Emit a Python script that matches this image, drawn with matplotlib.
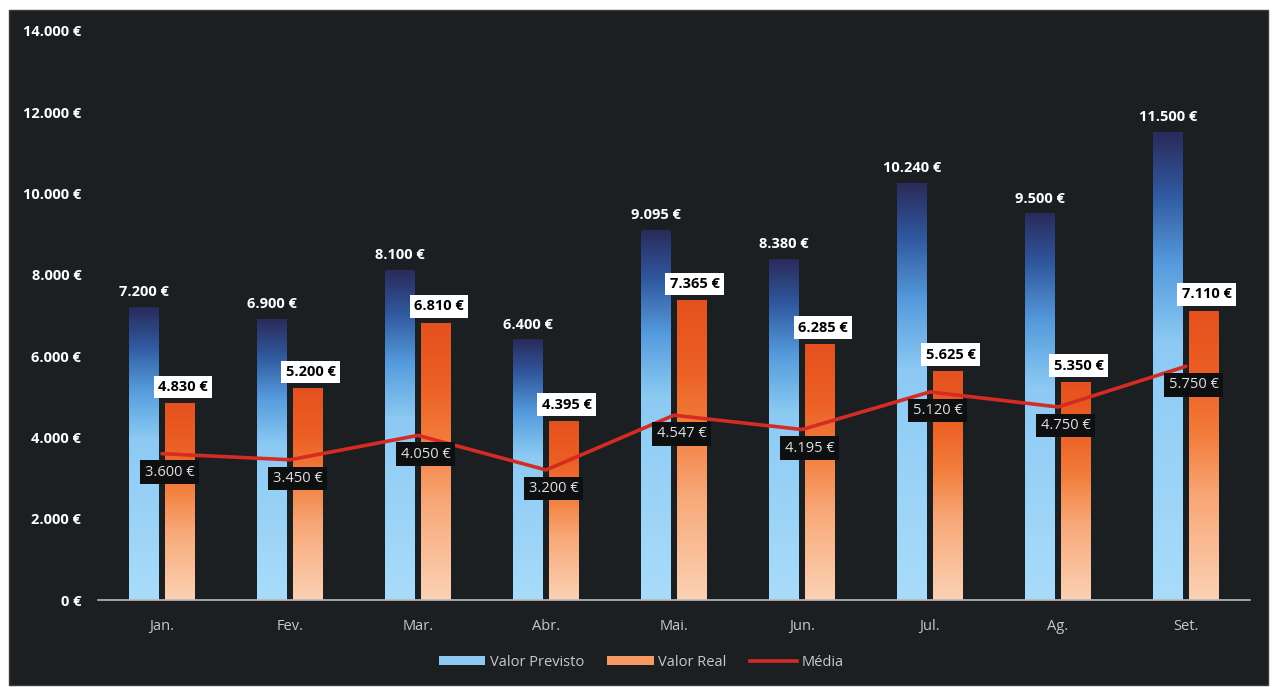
import matplotlib
matplotlib.use("Agg")
import matplotlib.pyplot as plt
import numpy as np
from matplotlib.colors import LinearSegmentedColormap
from matplotlib.patches import Rectangle, Patch
from matplotlib.lines import Line2D

# ---- data ----
months = ["Jan.", "Fev.", "Mar.", "Abr.", "Mai.", "Jun.", "Jul.", "Ag.", "Set."]
valor_previsto = [7200, 6900, 8100, 6400, 9095, 8380, 10240, 9500, 11500]
valor_real = [4830, 5200, 6810, 4395, 7365, 6285, 5625, 5350, 7110]
media = [3600, 3450, 4050, 3200, 4547, 4195, 5120, 4750, 5750]
y_ticks = [0, 2000, 4000, 6000, 8000, 10000, 12000, 14000]
series_names = ["Valor Previsto", "Valor Real", "Média"]

def eur(v):
    return f"{v:,.0f}".replace(",", ".") + " €"

plt.rcParams['font.family'] = ['Open Sans', 'DejaVu Sans']

FS = 10.5
BG = "#1c1f22"
fig = plt.figure(figsize=(12.75, 6.87), dpi=100)
fig.patch.set_facecolor("white")
fig.patches.append(Rectangle((9/1275, 2/687), 1259/1275, 675/687,
                             transform=fig.transFigure, facecolor=BG,
                             edgecolor="#3a3a3a", lw=1, zorder=-5))

ax = fig.add_axes([98/1275, 87/687, (1250-98)/1275, (656-87)/687])
ax.set_zorder(2)
ax.set_facecolor("none")

blue_cmap = LinearSegmentedColormap.from_list("b", [
    (0.0, "#a9dcfa"), (0.55, "#8ccaf4"), (0.72, "#559bdc"),
    (0.87, "#30589e"), (1.0, "#2a2b5c")])
orange_cmap = LinearSegmentedColormap.from_list("o", [
    (0.0, "#fbd2b4"), (0.35, "#f8a878"), (0.58, "#f27c3a"),
    (0.78, "#ec5f24"), (1.0, "#e5511e")])

x = np.arange(len(months))
w = 0.227
off = 0.1406
grad = np.linspace(0, 1, 256).reshape(-1, 1)

for i in range(len(months)):
    xb = x[i] - off
    ax.imshow(grad, extent=[xb - w/2, xb + w/2, 0, valor_previsto[i]],
              origin="lower", cmap=blue_cmap, aspect="auto", zorder=2)
    xo = x[i] + off
    ax.imshow(grad, extent=[xo - w/2, xo + w/2, 0, valor_real[i]],
              origin="lower", cmap=orange_cmap, aspect="auto", zorder=2)

ax.plot(x, media, color="#d52b25", lw=2.6, zorder=4, solid_capstyle="round")

for i in range(len(months)):
    ax.annotate(eur(valor_previsto[i]), (x[i] - off, valor_previsto[i]),
                xytext=(0, 6), textcoords="offset points", ha="center", va="bottom",
                color="white", fontsize=FS, fontweight="bold", zorder=6)
    ax.annotate(eur(valor_real[i]), (x[i] + off, valor_real[i]),
                xytext=(2, 7), textcoords="offset points", ha="center", va="bottom",
                color="black", fontsize=FS, fontweight="bold", zorder=6,
                bbox=dict(boxstyle="square,pad=0.3", fc="white", ec="none"))
    ax.annotate(eur(media[i]), (x[i] + 0.06, media[i]),
                xytext=(0, -8), textcoords="offset points", ha="center", va="top",
                color="#e0e0e0", fontsize=FS, zorder=5,
                bbox=dict(boxstyle="square,pad=0.3", fc="#0e0f11", ec="none"))

ax.set_xlim(-0.5, len(months) - 0.5)
ax.set_ylim(0, 14000)
ax.set_yticks(y_ticks)
ax.set_yticklabels([eur(v) for v in y_ticks], color="white", fontsize=FS, fontweight="bold")
ax.set_xticks(x)
ax.set_xticklabels(months, color="#c8c8c8", fontsize=FS)
ax.tick_params(axis="both", length=0)
ax.tick_params(axis="y", pad=12)
ax.tick_params(axis="x", pad=14)
for s in ["top", "right", "left"]:
    ax.spines[s].set_visible(False)
ax.spines["bottom"].set_color("#b8b8b8")
ax.spines["bottom"].set_linewidth(1.2)
ax.spines["bottom"].set_zorder(3)

handles = [Patch(facecolor="#8ccaf4", edgecolor="none"),
           Patch(facecolor="#f49a62", edgecolor="none"),
           Line2D([0], [0], color="#d52b25", lw=2.6)]
leg = fig.legend(handles, series_names, loc="center", bbox_to_anchor=(641/1275, 1 - 662/687),
                 ncol=3, frameon=False, fontsize=FS, labelcolor="#c8c8c8",
                 handlelength=3.2, handleheight=0.55, columnspacing=1.6, handletextpad=0.3)

fig.savefig("out.png", dpi=100, facecolor=fig.get_facecolor())
